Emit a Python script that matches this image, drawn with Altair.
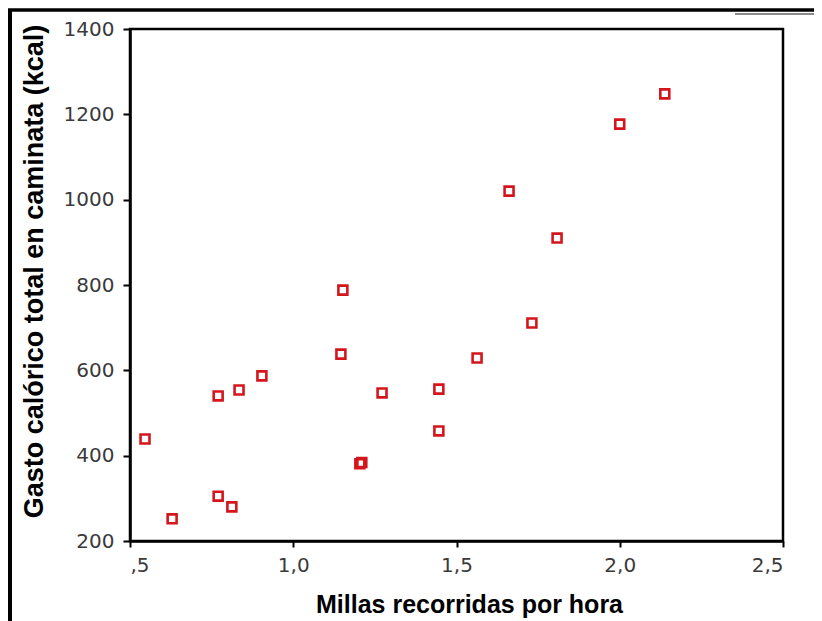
import altair as alt
import pandas as pd

millas = [0.546, 0.629, 0.770, 0.812, 0.770, 0.834, 0.904, 1.152, 1.146, 1.204, 1.210,
          1.272, 1.446, 1.446, 1.563, 1.661, 1.731, 1.808, 2.000, 2.138]
kcal = [439, 252, 305, 280, 540, 554, 587, 788, 638, 381, 384,
        547, 556, 458, 629, 1020, 711, 910, 1177, 1248]

x_ticks = [0.5, 1.0, 1.5, 2.0, 2.5]
y_ticks = [200, 400, 600, 800, 1000, 1200, 1400]

df = pd.DataFrame({"millas": millas, "kcal": kcal})

FONT = "Liberation Sans"
LFONT = "DejaVu Sans"

points = alt.Chart(df).mark_point(
    shape="square", filled=False, size=80, strokeWidth=2.6, color="#d4161c", opacity=1
).encode(
    x=alt.X("millas:Q",
            scale=alt.Scale(domain=[0.5, 2.5], nice=False, zero=False),
            axis=alt.Axis(values=x_ticks, title="Millas recorridas por hora",
                          labelExpr="datum.value == 0.5 ? ',5' : replace(format(datum.value, '.1f'), '.', ',')",
                          grid=False, domainColor="black", domainWidth=2.5,
                          tickColor="black", tickWidth=2, tickSize=6,
                          labelFont=LFONT, labelFontSize=20, labelColor="#3a3a3a",
                          labelPadding=8,
                          titleFont=FONT, titleFontSize=25, titleFontWeight="bold",
                          titleColor="black", titlePadding=17, titleX=339)),
    y=alt.Y("kcal:Q",
            scale=alt.Scale(domain=[200, 1400], nice=False, zero=False),
            axis=alt.Axis(values=y_ticks, title="Gasto calórico total en caminata (kcal)",
                          format="d",
                          grid=False, domainColor="black", domainWidth=2.5,
                          tickColor="black", tickWidth=2, tickSize=7,
                          labelFont=LFONT, labelFontSize=20, labelColor="#3a3a3a",
                          labelPadding=9,
                          titleFont=FONT, titleFontSize=27, titleFontWeight="bold",
                          titleColor="black", titlePadding=15, titleY=242)),
)

one = alt.Data(values=[{"a": 1}])

frame_left = alt.Chart(one).mark_rule(color="black", strokeWidth=4).encode(
    x=alt.value(-120), y=alt.value(-20), y2=alt.value(700))
frame_top = alt.Chart(one).mark_rule(color="black", strokeWidth=3.5).encode(
    x=alt.value(-122), x2=alt.value(700), y=alt.value(-19))
gray_line = alt.Chart(one).mark_rule(color="#8a8a8a", strokeWidth=2).encode(
    x=alt.value(605), x2=alt.value(700), y=alt.value(-15))

chart = alt.layer(points, frame_left, frame_top, gray_line).properties(
    width=653, height=512,
    autosize=alt.AutoSizeParams(type="none"),
    padding={"left": 122, "top": 21, "right": 31, "bottom": 80},
    background="white",
).configure_view(stroke="black", strokeWidth=2.5)

chart.save("out.html", embed_options={"renderer": "svg", "actions": False})
